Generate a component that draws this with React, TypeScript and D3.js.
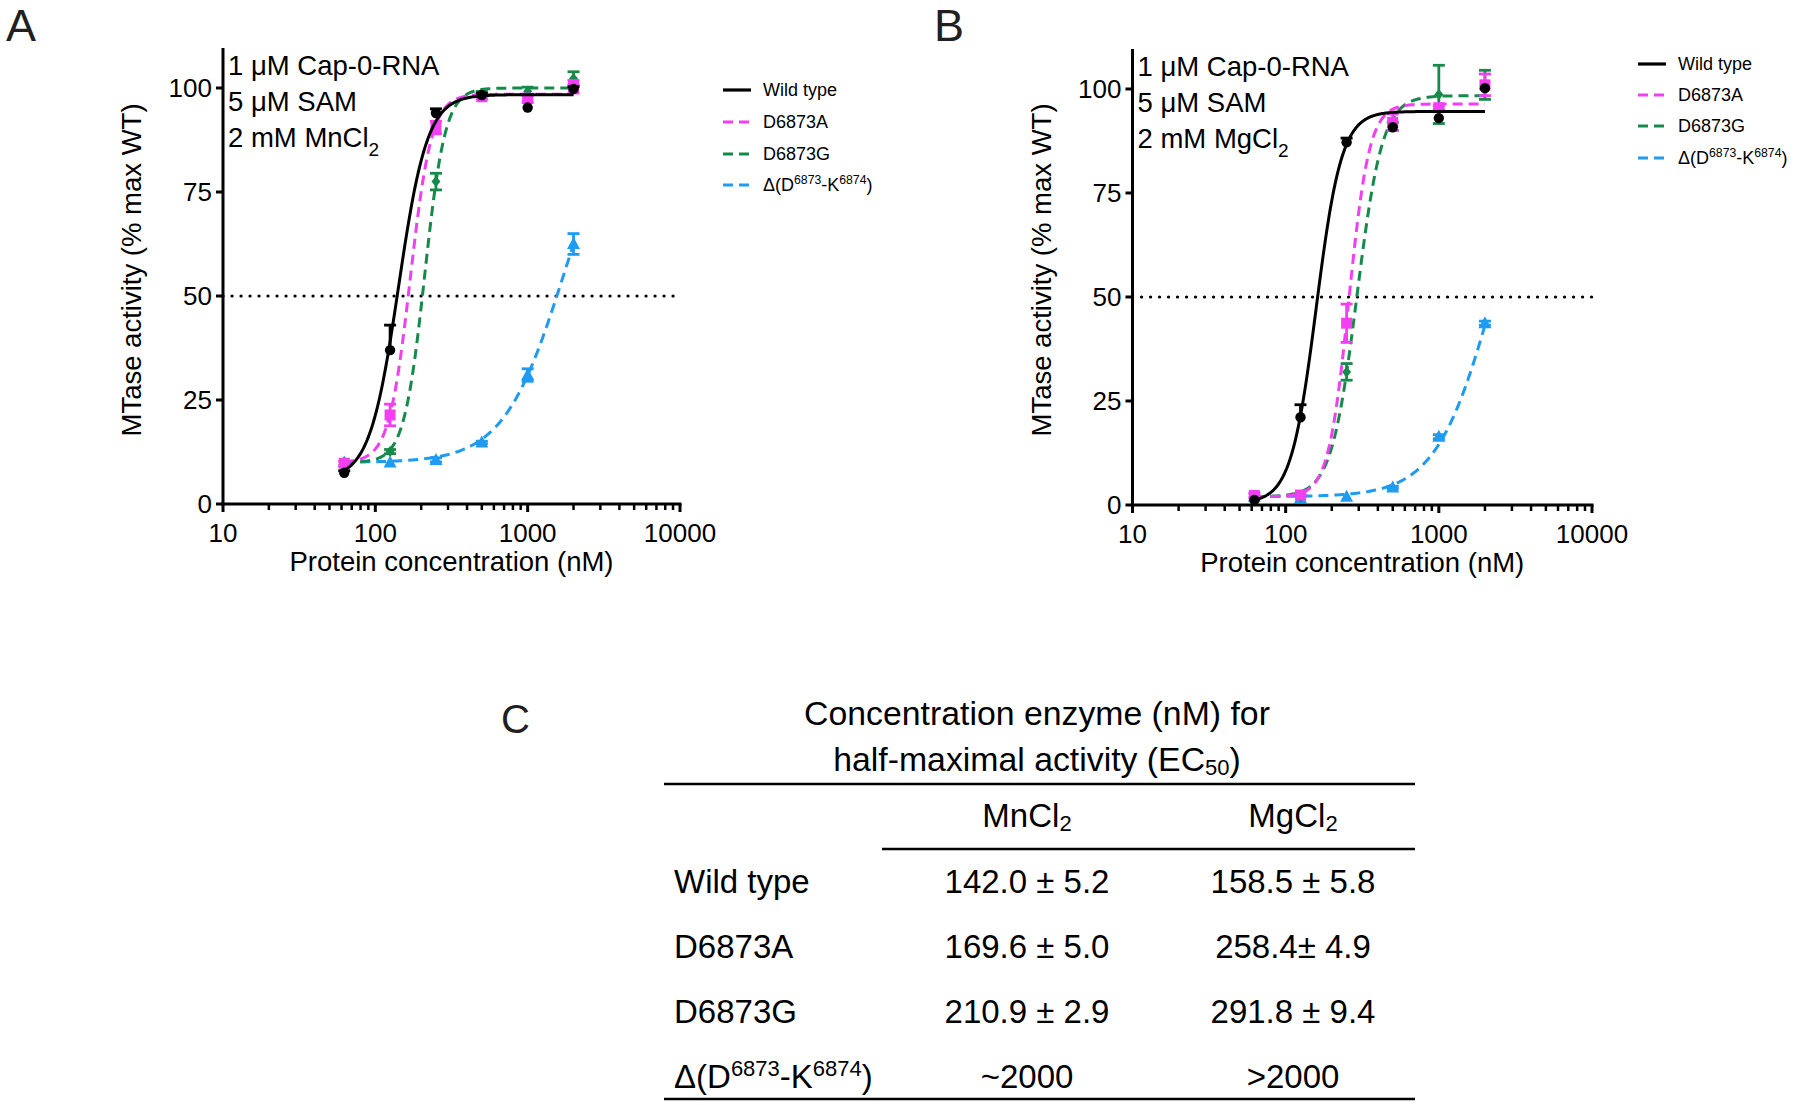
import React from "react";
import * as d3 from "d3";

const FONT = "'Liberation Sans', Arial, Helvetica, sans-serif";

// ---------- data ----------
const conc = [62.5, 125, 250, 500, 1000, 2000];
const xTicks = [10, 100, 1000, 10000];
const yTicks = [0, 25, 50, 75, 100];
const seriesNames = ["Wild type", "D6873A", "D6873G", "Δ(D6873-K6874)"];
const seriesColors = ["#000000", "#F23FF2", "#168A4B", "#1E9BF2"];

// MnCl2 (panel A) means and SEM
const wtMn = [7.5, 37, 94, 98.3, 95.3, 99.8];
const wtMnErr = [0.5, 6, 1, 0.5, 0, 0.5];
const aMn = [9.8, 21.4, 90.5, 97.9, 97.5, 100.3];
const aMnErr = [0.5, 2.6, 1.5, 0.5, 1, 1.5];
const gMn = [10, 12.6, 77.5, 98.7, 99.2, 102.3];
const gMnErr = [0, 0.5, 2, 0.5, 1, 1.6];
const dMn = [10, 10, 10.6, 14.8, 31, 62.5];
const dMnErr = [0, 0, 0.5, 0.3, 1.5, 2.5];
// 4PL fit parameters [bottom, top, EC50, hill]
const wtMnFit = [6, 98.4, 142.0, 4.6];
const aMnFit = [10, 98.5, 169.6, 6.2];
const gMnFit = [10, 100, 210.9, 6.4];
const dMnFit = [10, 100, 1720, 2.2];

// MgCl2 (panel B)
const wtMg = [1.2, 21.1, 87.2, 90.8, 93, 100.2];
const wtMgErr = [0, 3, 1, 0, 0, 0];
const aMg = [2.3, 2.4, 43.7, 92, 95.5, 101];
const aMgErr = [0.5, 0.3, 4.6, 2, 0.5, 2.6];
const gMg = [2, 2, 32, 91, 98.7, 101];
const gMgErr = [0, 0, 2, 1, 7, 3.5];
const dMg = [2, 1.6, 2, 4.2, 16.4, 43.7];
const dMgErr = [0, 0, 0, 0.3, 0.5, 0.5];
const wtMgFit = [0.5, 94.6, 158.5, 5.25];
const aMgFit = [2, 96.4, 258.4, 6.5];
const gMgFit = [2, 98.4, 291.8, 5.2];
const dMgFit = [2, 100, 2300, 2.3];

// table
const tableRows = ["Wild type", "D6873A", "D6873G", "DELTA"];
const mnEC50 = ["142.0 ± 5.2", "169.6 ± 5.0", "210.9 ± 2.9", "~2000"];
const mgEC50 = ["158.5 ± 5.8", "258.4± 4.9", "291.8 ± 9.4", ">2000"];

// ---------- helpers ----------
const fourPL = (p: number[], x: number) => p[0] + (p[1] - p[0]) / (1 + Math.pow(p[2] / x, p[3]));

function Marker({ kind, x, y, color }: any) {
  if (kind === 0) return <circle cx={x} cy={y} r={5.2} fill={color} />;
  if (kind === 1) return <rect x={x - 5.5} y={y - 5.5} width={11} height={11} fill={color} />;
  if (kind === 2)
    return <path d={`M${x},${y - 5.5}L${x + 4.5},${y}L${x},${y + 5.5}L${x - 4.5},${y}Z`} fill={color} />;
  return <path d={`M${x},${y - 7}L${x + 6.5},${y + 5}L${x - 6.5},${y + 5}Z`} fill={color} />;
}

function DeltaLabel({ x, y, size }: any) {
  const sup = size * 0.68;
  return (
    <text x={x} y={y} fontSize={size} fontFamily={FONT} fill="#000">
      Δ(D
      <tspan fontSize={sup} dy={-size * 0.38}>6873</tspan>
      <tspan dy={size * 0.38}>-K</tspan>
      <tspan fontSize={sup} dy={-size * 0.38}>6874</tspan>
      <tspan dy={size * 0.38}>)</tspan>
    </text>
  );
}

function Panel(props: any) {
  const { xr, yr, means, errs, fits, salt, legendX, legendRows, panelLabel, panelLabelX } = props;
  const x = d3.scaleLog().domain([10, 10000]).range(xr);
  const y = d3.scaleLinear().domain([0, 100]).range(yr);
  const axisTop = y(109.6);
  const lo = Math.log10(conc[0]);
  const hi = Math.log10(conc[conc.length - 1]);
  const samples = d3.range(0, 201).map((i) => Math.pow(10, lo + (i / 200) * (hi - lo)));
  const line = d3.line<number>().x((d) => x(d));
  const minor: number[] = [];
  [10, 100, 1000].forEach((dec) => {
    for (let k = 2; k <= 9; k++) minor.push(dec * k);
  });
  const order = [3, 2, 1, 0];
  return (
    <g>
      <text x={panelLabelX} y={41} fontSize={45} fontFamily={FONT} fill="#231f20">{panelLabel}</text>
      {/* dotted 50% line */}
      <line x1={xr[0]} x2={xr[1]} y1={y(50)} y2={y(50)} stroke="#000" strokeWidth={3.2} strokeDasharray="0.1,8.9" strokeLinecap="round" />
      {/* series */}
      {order.map((s) => {
        const fit = fits[s];
        const path = line.y((d) => y(fourPL(fit, d)))(samples) as string;
        return (
          <g key={s}>
            <path d={path} fill="none" stroke={seriesColors[s]} strokeWidth={3} strokeDasharray={s === 0 ? undefined : "10,6"} />
            {conc.map((c, i) => {
              const e = errs[s][i];
              if (!e) return null;
              const cx = x(c);
              const top = y(means[s][i] + e);
              const bot = s === 0 ? y(means[s][i]) : y(means[s][i] - e);
              return (
                <g key={i} stroke={seriesColors[s]} strokeWidth={2.8}>
                  <line x1={cx} x2={cx} y1={top} y2={bot} />
                  <line x1={cx - 6} x2={cx + 6} y1={top} y2={top} />
                  {s !== 0 && <line x1={cx - 6} x2={cx + 6} y1={bot} y2={bot} />}
                </g>
              );
            })}
            {conc.map((c, i) => (
              <Marker key={"m" + i} kind={s} x={x(c)} y={y(means[s][i])} color={seriesColors[s]} />
            ))}
          </g>
        );
      })}
      {/* axes */}
      <line x1={xr[0]} x2={xr[0]} y1={axisTop} y2={yr[0] + 1.5} stroke="#000" strokeWidth={3} />
      <line x1={xr[0] - 1.5} x2={xr[1] + 1.5} y1={yr[0]} y2={yr[0]} stroke="#000" strokeWidth={3} />
      {yTicks.map((t) => (
        <g key={t}>
          <line x1={xr[0] - 7} x2={xr[0]} y1={y(t)} y2={y(t)} stroke="#000" strokeWidth={3} />
          <text x={xr[0] - 11} y={y(t)} dy="0.36em" textAnchor="end" fontSize={26} fontFamily={FONT}>{t}</text>
        </g>
      ))}
      {xTicks.map((t) => (
        <g key={t}>
          <line x1={x(t)} x2={x(t)} y1={yr[0]} y2={yr[0] + 8} stroke="#000" strokeWidth={3} />
          <text x={x(t)} y={yr[0] + 38} textAnchor="middle" fontSize={26} fontFamily={FONT}>{t}</text>
        </g>
      ))}
      {minor.map((t) => (
        <line key={t} x1={x(t)} x2={x(t)} y1={yr[0]} y2={yr[0] + 6} stroke="#000" strokeWidth={2.5} />
      ))}
      <text x={(xr[0] + xr[1]) / 2} y={yr[0] + 67} textAnchor="middle" fontSize={27.5} fontFamily={FONT}>Protein concentration (nM)</text>
      <text transform={`translate(${xr[0] - 82},270) rotate(-90)`} textAnchor="middle" fontSize={27.5} fontFamily={FONT}>MTase activity (% max WT)</text>
      {/* annotations */}
      <text x={xr[0] + 5} y={y(100) - 13} fontSize={27.5} fontFamily={FONT}>1 μM Cap-0-RNA</text>
      <text x={xr[0] + 5} y={y(100) + 23} fontSize={27.5} fontFamily={FONT}>5 μM SAM</text>
      <text x={xr[0] + 5} y={y(100) + 59} fontSize={27.5} fontFamily={FONT}>
        2 mM {salt}
        <tspan fontSize={19} dy={9}>2</tspan>
      </text>
      {/* legend */}
      {seriesNames.map((n, i) => (
        <g key={n}>
          <line x1={legendX} x2={legendX + 28} y1={legendRows[i]} y2={legendRows[i]} stroke={seriesColors[i]} strokeWidth={3.2} strokeDasharray={i === 0 ? undefined : "10,6"} />
          {i < 3 ? (
            <text x={legendX + 40} y={legendRows[i] + 6.3} fontSize={18} fontFamily={FONT}>{n}</text>
          ) : (
            <DeltaLabel x={legendX + 40} y={legendRows[i] + 6.3} size={18} />
          )}
        </g>
      ))}
    </g>
  );
}

function Table() {
  const rowY = [893, 958, 1023, 1088];
  const colMn = 1027;
  const colMg = 1293;
  const fs = 33;
  return (
    <g fontFamily={FONT} fontSize={fs} fill="#000">
      <text x={501} y={733} fontSize={40} fill="#231f20">C</text>
      <text x={1037} y={725} textAnchor="middle" fontSize={33.8}>Concentration enzyme (nM) for</text>
      <text x={1037} y={771} textAnchor="middle" fontSize={33.8}>
        half-maximal activity (EC<tspan fontSize={22} dy={4}>50</tspan><tspan dy={-4}>)</tspan>
      </text>
      <line x1={664} x2={1415} y1={784} y2={784} stroke="#000" strokeWidth={2.5} />
      <text x={colMn} y={827} textAnchor="middle">MnCl<tspan fontSize={22} dy={4}>2</tspan></text>
      <text x={colMg} y={827} textAnchor="middle">MgCl<tspan fontSize={22} dy={4}>2</tspan></text>
      <line x1={882} x2={1415} y1={849} y2={849} stroke="#000" strokeWidth={2.5} />
      {tableRows.map((r, i) => (
        <g key={r}>
          {r === "DELTA" ? (
            <text x={674} y={rowY[i]}>
              Δ(D<tspan fontSize={22} dy={-12}>6873</tspan><tspan dy={12}>-K</tspan><tspan fontSize={22} dy={-12}>6874</tspan><tspan dy={12}>)</tspan>
            </text>
          ) : (
            <text x={674} y={rowY[i]}>{r}</text>
          )}
          <text x={colMn} y={rowY[i]} textAnchor="middle">{mnEC50[i]}</text>
          <text x={colMg} y={rowY[i]} textAnchor="middle">{mgEC50[i]}</text>
        </g>
      ))}
      <line x1={664} x2={1415} y1={1099} y2={1099} stroke="#000" strokeWidth={2.5} />
    </g>
  );
}

export default function App() {
  return (
    <svg width={1800} height={1105} style={{ position: "absolute", left: 0, top: 0, background: "#fff" }}>
      <rect width={1800} height={1105} fill="#fff" />
      <Panel
        xr={[223, 680]}
        yr={[504, 88]}
        means={[wtMn, aMn, gMn, dMn]}
        errs={[wtMnErr, aMnErr, gMnErr, dMnErr]}
        fits={[wtMnFit, aMnFit, gMnFit, dMnFit]}
        salt="MnCl"
        legendX={723}
        legendRows={[90, 122, 154, 185]}
        panelLabel="A"
        panelLabelX={6}
      />
      <Panel
        xr={[1132.5, 1592]}
        yr={[505, 89]}
        means={[wtMg, aMg, gMg, dMg]}
        errs={[wtMgErr, aMgErr, gMgErr, dMgErr]}
        fits={[wtMgFit, aMgFit, gMgFit, dMgFit]}
        salt="MgCl"
        legendX={1638}
        legendRows={[64, 95, 126, 158]}
        panelLabel="B"
        panelLabelX={934}
      />
      <Table />
    </svg>
  );
}
